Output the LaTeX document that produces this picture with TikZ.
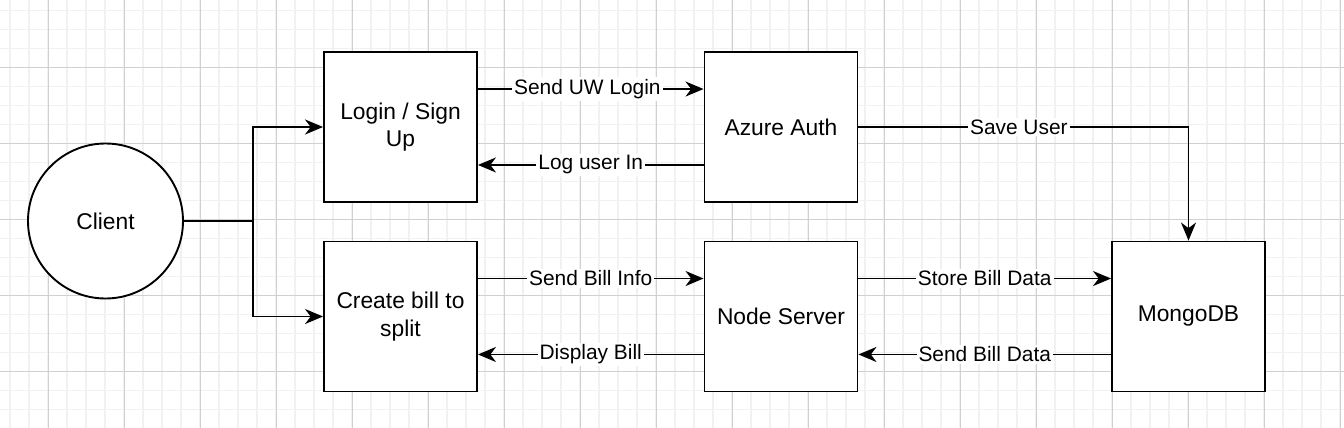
\documentclass[tikz,border=0pt]{standalone}
\usepackage{fontspec}
\setmainfont{Liberation Sans}
\usepackage{tikz}
\usetikzlibrary{arrows.meta,positioning,calc}
\usepackage{xcolor}
\definecolor{gridminor}{RGB}{241,241,241}
\definecolor{gridmajor}{RGB}{208,208,208}
\tikzstyle{arrow} = [line width=0.95pt,-{Stealth[length=9pt,width=7.5pt,inset=2.8pt]}]
\tikzstyle{block} = [rectangle, draw, line width=0.95pt, minimum width=76.5pt, minimum height=75pt, align=center, font=\fontsize{11.4}{13.7}\selectfont]
\tikzstyle{elabel} = [fill=white, inner sep=1pt, font=\fontsize{10.45}{12}\selectfont]

\begin{document}
\begin{tikzpicture}[x=0.5pt,y=-0.5pt]
\useasboundingbox (0,0) rectangle (1344,428);
% Grid
\fill[white] (0,0) rectangle (1344,428);
\foreach \gx in {0,...,70} \draw[gridminor, line width=0.9pt] (10.3+19*\gx,0) -- (10.3+19*\gx,428);
\foreach \gy in {0,...,21} \draw[gridminor, line width=0.9pt] (0,10.5+19*\gy) -- (1344,10.5+19*\gy);
\foreach \gx in {0,...,17} \draw[gridmajor, line width=0.5pt] (48.3+76*\gx,0) -- (48.3+76*\gx,428);
\foreach \gy in {0,...,4} \draw[gridmajor, line width=0.5pt] (0,67.5+76*\gy) -- (1344,67.5+76*\gy);

% Client
\node[circle, draw, line width=0.95pt, fill=white, minimum size=77.5pt, font=\fontsize{11.4}{13.7}\selectfont] (client) at (105.5,221) {Client};

% Boxes
\node[block, fill=white] (login) at (400.5,127) {Login / Sign\\Up};
\node[block, fill=white] (bill) at (400.5,316.5) {Create bill to\\split};
\node[block, fill=white] (azure) at (781,127) {Azure Auth};
\node[block, fill=white] (nodesrv) at (781,316.5) {Node Server};
\node[block, fill=white] (mongo) at (1188.5,316.5) {MongoDB};

% Client fork
\coordinate (fork) at (253,221);
\draw[line width=0.95pt] (client.east) -- (fork);
\draw[arrow] (fork) |- (login.west);
\draw[arrow] (fork) |- (bill.west);

% Login <-> Azure
\draw[arrow] ($(login.north east)!0.25!(login.south east)$) -- ($(azure.north west)!0.25!(azure.south west)$) node[elabel, pos=0.485] {Send UW Login};
\draw[arrow] ($(azure.north west)!0.75!(azure.south west)$) -- ($(login.north east)!0.75!(login.south east)$) node[elabel, midway] {Log user In};

% Azure -> MongoDB
\draw[arrow] (azure.east) -| (mongo.north) node[elabel, pos=0.243] {Save User};

% Bill <-> Node
\draw[arrow] ($(bill.north east)!0.25!(bill.south east)$) -- ($(nodesrv.north west)!0.25!(nodesrv.south west)$) node[elabel, midway] {Send Bill Info};
\draw[arrow] ($(nodesrv.north west)!0.75!(nodesrv.south west)$) -- ($(bill.north east)!0.75!(bill.south east)$) node[elabel, midway] {Display Bill};

% Node <-> MongoDB
\draw[arrow] ($(nodesrv.north east)!0.25!(nodesrv.south east)$) -- ($(mongo.north west)!0.25!(mongo.south west)$) node[elabel, midway] {Store Bill Data};
\draw[arrow] ($(mongo.north west)!0.75!(mongo.south west)$) -- ($(nodesrv.north east)!0.75!(nodesrv.south east)$) node[elabel, midway] {Send Bill Data};
\end{tikzpicture}
\end{document}
